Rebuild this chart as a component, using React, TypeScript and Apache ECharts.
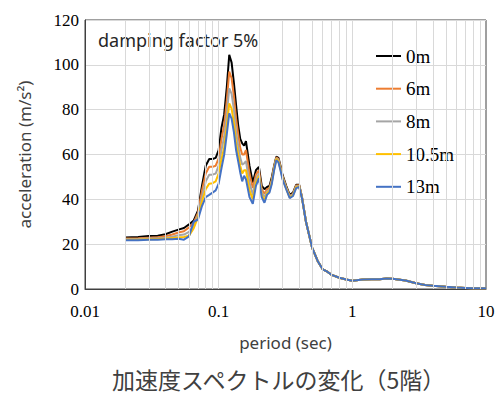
import React, { useEffect, useRef } from "react";
import * as echarts from "echarts";

// periods (sec) where the five curves differ
const periodsHead = [
  0.02, 0.025, 0.03, 0.035, 0.04, 0.045, 0.05, 0.055, 0.06, 0.065,
  0.07, 0.075, 0.08, 0.085, 0.09, 0.095, 0.1, 0.105, 0.11, 0.115,
  0.12, 0.125, 0.13, 0.135, 0.14, 0.145, 0.15, 0.155, 0.16, 0.17,
  0.18, 0.19, 0.2, 0.21, 0.22, 0.23, 0.24, 0.25, 0.26, 0.27,
  0.28, 0.29, 0.3, 0.32, 0.34, 0.36, 0.38, 0.4, 0.42,
];
// periods (sec) where the curves coincide
const periodsTail = [
  0.45, 0.5, 0.55, 0.6, 0.65, 0.7, 0.8, 0.9, 1.0, 1.2, 1.4, 1.6,
  1.8, 2.0, 2.5, 3.0, 3.5, 4.0, 5.0, 6.0, 7.0, 8.0, 10.0,
];
const tailValues = [
  30, 18.5, 12.5, 8.8, 7.7, 6.3, 5.0, 4.2, 3.7, 4.2, 4.3, 4.3,
  4.7, 4.6, 3.8, 2.6, 1.8, 1.4, 1.0, 0.7, 0.5, 0.3, 0.3,
];

const s0m = [
  23.0, 23.2, 23.6, 23.8, 24.4, 25.6, 26.5, 27.2, 28.8, 30.5,
  35, 46, 55, 58, 58, 58.5, 62, 72, 78, 90,
  104.5, 101, 92, 82, 73, 67, 65, 64, 66, 55,
  47.5, 53, 54.5, 46, 44.5, 45.5, 46, 50, 55, 59,
  58.5, 55, 51, 46, 42, 43, 46.5, 46.5, 41,
];
const s6m = [
  22.5, 22.6, 22.9, 23.1, 23.5, 24.3, 25.2, 25.8, 27.5, 29.5,
  34, 44, 51.5, 54.5, 54.5, 55, 58.3, 67, 73, 84,
  97, 94, 86, 76, 69, 63, 60, 60, 62, 51.5,
  45, 51, 53, 44.5, 42.5, 44.5, 45, 49, 54.5, 58.7,
  58, 54.5, 50.5, 45.5, 41.5, 42.5, 46.2, 46.3, 41,
];
const s8m = [
  22.2, 22.3, 22.5, 22.6, 22.9, 23.3, 24.0, 24.3, 25.5, 28,
  33, 41, 48, 51, 51, 51.5, 55, 62, 68, 78,
  89.5, 87, 80, 70, 64, 58.5, 55.5, 56, 57, 47.5,
  42, 49, 51.5, 43, 41, 43.5, 44.3, 48.3, 54, 58.3,
  57.5, 54, 50, 45.2, 41.2, 42.2, 45.8, 46, 40.8,
];
const s105m = [
  22.0, 22.0, 22.2, 22.3, 22.5, 22.7, 23.0, 23.2, 23.8, 27,
  32, 39, 44.5, 47, 47.2, 48, 51.6, 58, 63, 72.5,
  82.8, 80.5, 74, 65, 60, 55, 51.5, 53, 53, 44,
  40, 47.5, 50.5, 42, 39.5, 42.8, 43.7, 47.7, 53.5, 58,
  57, 53.5, 49.5, 44.8, 40.8, 41.8, 45.4, 45.7, 40.6,
];
const s13m = [
  21.7, 21.8, 22.0, 22.0, 22.2, 22.2, 22.4, 22.0, 23.5, 30,
  31, 37, 41, 42, 43, 44, 47, 54, 60, 69,
  78.4, 76, 70, 62, 57, 52, 48, 50.5, 49, 41,
  38, 46, 49.5, 41, 38.5, 42, 43, 47, 53, 57.5,
  56.5, 53, 49, 44.5, 40.5, 41.5, 45, 45.5, 40.5,
];

const seriesNames = ["0m", "6m", "8m", "10.5m", "13m"];
const seriesColors = ["#000000", "#ED7D31", "#A5A5A5", "#FFC000", "#4472C4"];
const seriesHeads = [s0m, s6m, s8m, s105m, s13m];

const yTicks = [0, 20, 40, 60, 80, 100, 120];
const gridPeriods = [
  0.02, 0.03, 0.04, 0.05, 0.06, 0.07, 0.08, 0.09, 0.1,
  0.2, 0.3, 0.4, 0.5, 0.6, 0.7, 0.8, 0.9, 1,
  2, 3, 4, 5, 6, 7, 8, 9,
];

const titleText = "加速度スペクトルの変化（5階）";
const noteText = "damping factor 5%";

export default function App() {
  const ref = useRef<HTMLDivElement>(null);
  useEffect(() => {
    if (!ref.current) return;
    const chart = echarts.init(ref.current, undefined, { renderer: "svg" });
    const periods = periodsHead.concat(periodsTail);
    const lineSeries = seriesNames.map((name, k) => {
      const vals = seriesHeads[k].concat(tailValues);
      return {
        name,
        type: "line",
        data: periods.map((p, i) => [p, vals[i]]),
        symbol: "none",
        showSymbol: false,
        z: 3,
        lineStyle: { color: seriesColors[k], width: 2 },
        itemStyle: { color: seriesColors[k] },
        emphasis: { disabled: true },
      };
    });
    const serif = "'Liberation Serif', 'Times New Roman', serif";
    const sans = "'Noto Sans', 'Noto Sans CJK JP', sans-serif";
    chart.setOption({
      animation: false,
      backgroundColor: "#ffffff",
      title: {
        text: titleText,
        left: 107,
        top: 362,
        textStyle: {
          fontFamily: "'Noto Sans CJK JP', sans-serif",
          fontSize: 23,
          fontWeight: "normal",
          color: "#404040",
        },
      },
      grid: {
        left: 85,
        top: 20,
        width: 401,
        height: 269,
        show: true,
        borderColor: "#404040",
        borderWidth: 1,
        backgroundColor: "transparent",
      },
      legend: {
        orient: "vertical",
        left: 371,
        top: 40,
        icon: "rect",
        itemWidth: 25,
        itemHeight: 2,
        itemGap: 10.7,
        data: seriesNames,
        textStyle: { fontFamily: serif, fontSize: 19, lineHeight: 19, color: "#000", padding: [3, 0, 0, 0] },
        selectedMode: false,
      },
      xAxis: {
        type: "log",
        logBase: 10,
        min: 0.01,
        max: 10,
        name: "period (sec)",
        nameLocation: "middle",
        nameGap: 45,
        nameTextStyle: { fontFamily: sans, fontSize: 17, color: "#404040" },
        axisLine: { show: true, lineStyle: { color: "#404040", width: 1 } },
        axisTick: { show: false },
        splitLine: { show: false },
        axisLabel: {
          fontFamily: serif,
          fontSize: 17,
          color: "#000",
          margin: 14,
          formatter: (v: number) => String(v),
        },
      },
      yAxis: {
        type: "value",
        min: yTicks[0],
        max: yTicks[yTicks.length - 1],
        interval: 20,
        name: "acceleration (m/s²)",
        nameLocation: "middle",
        nameGap: 52,
        nameTextStyle: { fontFamily: sans, fontSize: 17, color: "#404040" },
        axisLine: { show: true, lineStyle: { color: "#404040", width: 1 } },
        axisTick: { show: false },
        splitLine: { show: true, lineStyle: { color: "#d9d9d9", width: 1 } },
        axisLabel: { fontFamily: serif, fontSize: 17, color: "#000", margin: 6 },
      },
      graphic: [
        {
          type: "rect",
          z: 1,
          shape: { x: 86, y: 21, width: 178, height: 33 },
          style: { fill: "#ffffff" },
          silent: true,
        },
        {
          type: "text",
          z: 2,
          x: 98,
          y: 40,
          style: {
            text: noteText,
            fontFamily: sans,
            fontSize: 18,
            fill: "#262626",
            verticalAlign: "middle",
          },
          silent: true,
        },
      ],
      series: [
        {
          name: "grid",
          type: "line",
          data: [[0.01, 0]],
          symbol: "none",
          lineStyle: { width: 0 },
          silent: true,
          z: 0,
          markLine: {
            silent: true,
            symbol: ["none", "none"],
            label: { show: false },
            emphasis: { disabled: true },
            lineStyle: { color: "#d9d9d9", type: "solid", width: 1 },
            data: gridPeriods.map((p) => ({ xAxis: p })),
          },
        },
        ...lineSeries,
      ],
    });
    return () => chart.dispose();
  }, []);
  return (
    <div
      ref={ref}
      style={{ position: "fixed", left: 0, top: 0, width: 498, height: 394 }}
    />
  );
}
